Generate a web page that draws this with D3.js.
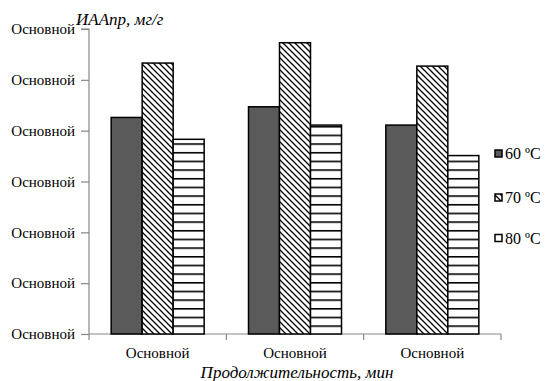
<!DOCTYPE html>
<html><head><meta charset="utf-8">
<script src="https://cdn.jsdelivr.net/npm/d3@7"></script>
<style>body{margin:0;background:#fff}svg{display:block}</style>
</head><body>
<script>
const categories = ["c1", "c2", "c3"];
const categoryLabels = ["Основной", "Основной", "Основной"];
const seriesNames = ["60 ºC", "70 ºC", "80 ºC"];
const s60 = [4.26, 4.47, 4.11];
const s70 = [5.33, 5.73, 5.27];
const s80 = [3.83, 4.11, 3.51];
const yTicks = [0, 1, 2, 3, 4, 5, 6];
const yTickLabels = ["Основной", "Основной", "Основной", "Основной", "Основной", "Основной", "Основной"];
const yTitle = "ИААпр, мг/г";
const xTitle = "Продолжительность, мин";

const series = [s60, s70, s80];
const W = 548, H = 381;
const svg = d3.select("body").append("svg").attr("width", W).attr("height", H);
const font = "'Liberation Serif', 'Times New Roman', serif";
const axisColor = "#878787";

const defs = svg.append("defs");
const diag = defs.append("pattern").attr("id", "diag").attr("patternUnits", "userSpaceOnUse")
  .attr("width", 6).attr("height", 6);
diag.append("rect").attr("width", 6).attr("height", 6).attr("fill", "#fff");
diag.append("path").attr("d", "M0,0L6,6M-1,5L1,7M5,-1L7,1").attr("stroke", "#000").attr("stroke-width", 1.3);
const hor = defs.append("pattern").attr("id", "hor").attr("patternUnits", "userSpaceOnUse")
  .attr("width", 8).attr("height", 8.67).attr("patternTransform", "translate(0,334)");
hor.append("rect").attr("width", 8).attr("height", 8.67).attr("fill", "#fff");
hor.append("rect").attr("y", 0).attr("width", 8).attr("height", 1.6).attr("fill", "#000");
const fills = ["#5a5a5a", "url(#diag)", "url(#hor)"];

const x0 = 89, x1 = 501, yTop = 29, yBot = 334;
const x = d3.scaleBand().domain(categories).range([x0, x1]).padding(0);
const xi = d3.scaleBand().domain(d3.range(series.length)).range([0, x.bandwidth()]).paddingInner(0).paddingOuter(0.715);
const y = d3.scaleLinear().domain([0, 6]).range([yBot, yTop]);

// axes
const ya = svg.append("g").attr("transform", `translate(${x0},0)`)
  .call(d3.axisLeft(y).tickValues(yTicks).tickSize(8).tickPadding(6).tickFormat((d, i) => yTickLabels[i]));
ya.select(".domain").attr("stroke", axisColor).attr("stroke-width", 1.2).attr("d", `M-8,${yTop}H0V${yBot}`);
ya.selectAll(".tick line").attr("stroke", axisColor).attr("stroke-width", 1.2);
ya.selectAll(".tick text").attr("font-family", font).attr("font-size", 15).attr("fill", "#000");

const xa = svg.append("g").attr("transform", `translate(0,${yBot})`);
xa.append("line").attr("x1", x0).attr("x2", x1).attr("stroke", axisColor).attr("stroke-width", 1.2);
const bounds = categories.map(c => x(c)).concat([x1]);
xa.selectAll(".xt").data(bounds).join("line").attr("x1", d => d).attr("x2", d => d)
  .attr("y1", 0).attr("y2", 6).attr("stroke", axisColor).attr("stroke-width", 1.2);
xa.selectAll(".xl").data(categories).join("text")
  .attr("x", d => x(d) + x.bandwidth() / 2).attr("y", 24)
  .attr("text-anchor", "middle").attr("font-family", font).attr("font-size", 15)
  .text((d, i) => categoryLabels[i]);

// bars
series.forEach((s, si) => {
  svg.append("g").selectAll("rect").data(s).join("rect")
    .attr("x", (d, i) => x(categories[i]) + xi(si))
    .attr("y", d => y(d))
    .attr("width", xi.bandwidth())
    .attr("height", d => yBot - y(d))
    .attr("fill", fills[si]).attr("stroke", "#000").attr("stroke-width", 1.5);
});

// titles
svg.append("text").attr("x", 76).attr("y", 25).attr("font-family", font).attr("font-size", 17)
  .attr("font-style", "italic").text(yTitle);
svg.append("text").attr("x", 297).attr("y", 378).attr("text-anchor", "middle").attr("font-family", font)
  .attr("font-size", 17).attr("font-style", "italic").text(xTitle);

// legend
const legY = [153.5, 197.5, 238];
const leg = svg.append("g");
seriesNames.forEach((n, i) => {
  leg.append("rect").attr("x", 495).attr("y", legY[i] - 3.5).attr("width", 7).attr("height", 7)
    .attr("fill", fills[i] === "url(#hor)" ? "#fff" : fills[i]).attr("stroke", "#000").attr("stroke-width", 1.5);
  leg.append("text").attr("x", 505).attr("y", legY[i] + 5.5).attr("font-family", font).attr("font-size", 16).text(n);
});
</script>
</body></html>
